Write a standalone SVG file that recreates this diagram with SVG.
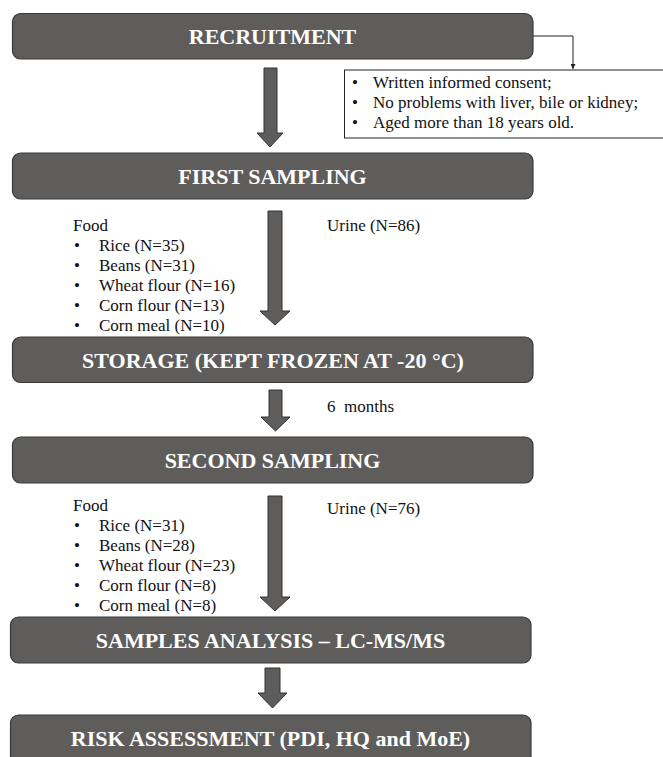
<svg xmlns="http://www.w3.org/2000/svg" width="663" height="757" viewBox="0 0 663 757">
<style>
.box{fill:#5e5d5b;stroke:#3a3a3a;stroke-width:1.2}
.hd{font-family:'Liberation Serif',Tinos,'DejaVu Serif',serif;font-weight:bold;font-size:22px;fill:#ffffff;text-anchor:middle}
.tx{font-family:'Liberation Serif',Tinos,'DejaVu Serif',serif;font-size:17px;fill:#111111}
.arr{fill:#5e5d5b;stroke:#333333;stroke-width:1}
.ln{fill:none;stroke:#222222;stroke-width:1}
</style>
<defs>
<marker id="ah" viewBox="0 0 10 10" refX="10" refY="5" markerWidth="5" markerHeight="5" orient="auto" markerUnits="userSpaceOnUse">
<path d="M0,0 L10,5 L0,10 z" fill="#222222"/>
</marker>
</defs>
<rect width="663" height="757" fill="#ffffff"/>
<g id="connectors">
<path class="ln" d="M533,36 H573 V69" marker-end="url(#ah)"/>
<path class="arr" d="M264,68 H277 V133 H283 L270,147 L257,133 H264 Z"/>
<path class="arr" d="M268,211 H282 V311 H290 L275,325 L260,311 H268 Z"/>
<path class="arr" d="M269,390 H282 V417 H290 L275.5,431 L261,417 H269 Z"/>
<path class="arr" d="M268,496 H282 V597 H290 L275,611 L260,597 H268 Z"/>
<path class="arr" d="M265,668 H280 V693 H287 L272.5,708 L258,693 H265 Z"/>
</g>
<g font-family="Liberation Serif, serif">
<g id="recruitment">
<rect class="box" x="12.5" y="13.5" width="520.5" height="45.5" rx="8"/>
<text class="hd" x="272.5" y="43.5">RECRUITMENT</text>
</g>
<g id="criteria">
<rect x="344.5" y="70" width="330" height="68" fill="#ffffff" stroke="#222222" stroke-width="1"/>
<text class="tx" x="352" y="88">•</text><text class="tx" x="373" y="88">Written informed consent;</text>
<text class="tx" x="352" y="108">•</text><text class="tx" x="373" y="108">No problems with liver, bile or kidney;</text>
<text class="tx" x="352" y="128">•</text><text class="tx" x="373" y="128">Aged more than 18 years old.</text>
</g>
<g id="first-sampling">
<rect class="box" x="12.5" y="153" width="520.5" height="46" rx="8"/>
<text class="hd" x="272.5" y="183.5">FIRST SAMPLING</text>
</g>
<g id="first-food">
<text class="tx" x="73" y="231">Food</text>
<text class="tx" x="74" y="251">•</text><text class="tx" x="99" y="251">Rice (N=35)</text>
<text class="tx" x="74" y="271">•</text><text class="tx" x="99" y="271">Beans (N=31)</text>
<text class="tx" x="74" y="291">•</text><text class="tx" x="99" y="291">Wheat flour (N=16)</text>
<text class="tx" x="74" y="311">•</text><text class="tx" x="99" y="311">Corn flour (N=13)</text>
<text class="tx" x="74" y="331">•</text><text class="tx" x="99" y="331">Corn meal (N=10)</text>
</g>
<g id="first-urine">
<text class="tx" x="327" y="231">Urine (N=86)</text>
</g>
<g id="storage">
<rect class="box" x="12.5" y="337" width="520.5" height="45.5" rx="8"/>
<text class="hd" x="273" y="367.5">STORAGE (KEPT FROZEN AT -20 °C)</text>
</g>
<g id="interval">
<text class="tx" x="327" y="412" xml:space="preserve">6  months</text>
</g>
<g id="second-sampling">
<rect class="box" x="12.5" y="437" width="520.5" height="46" rx="8"/>
<text class="hd" x="272.5" y="467.5">SECOND SAMPLING</text>
</g>
<g id="second-food">
<text class="tx" x="73" y="511">Food</text>
<text class="tx" x="74" y="531">•</text><text class="tx" x="99" y="531">Rice (N=31)</text>
<text class="tx" x="74" y="551">•</text><text class="tx" x="99" y="551">Beans (N=28)</text>
<text class="tx" x="74" y="571">•</text><text class="tx" x="99" y="571">Wheat flour (N=23)</text>
<text class="tx" x="74" y="591">•</text><text class="tx" x="99" y="591">Corn flour (N=8)</text>
<text class="tx" x="74" y="611">•</text><text class="tx" x="99" y="611">Corn meal (N=8)</text>
</g>
<g id="second-urine">
<text class="tx" x="327" y="514">Urine (N=76)</text>
</g>
<g id="samples-analysis">
<rect class="box" x="10.5" y="617" width="520.5" height="46" rx="8"/>
<text class="hd" x="270.5" y="647.5">SAMPLES ANALYSIS – LC-MS/MS</text>
</g>
<g id="risk-assessment">
<rect class="box" x="10.5" y="715" width="520.5" height="50" rx="8"/>
<text class="hd" x="270.5" y="745.5">RISK ASSESSMENT (PDI, HQ and MoE)</text>
</g>
</g>
</svg>
